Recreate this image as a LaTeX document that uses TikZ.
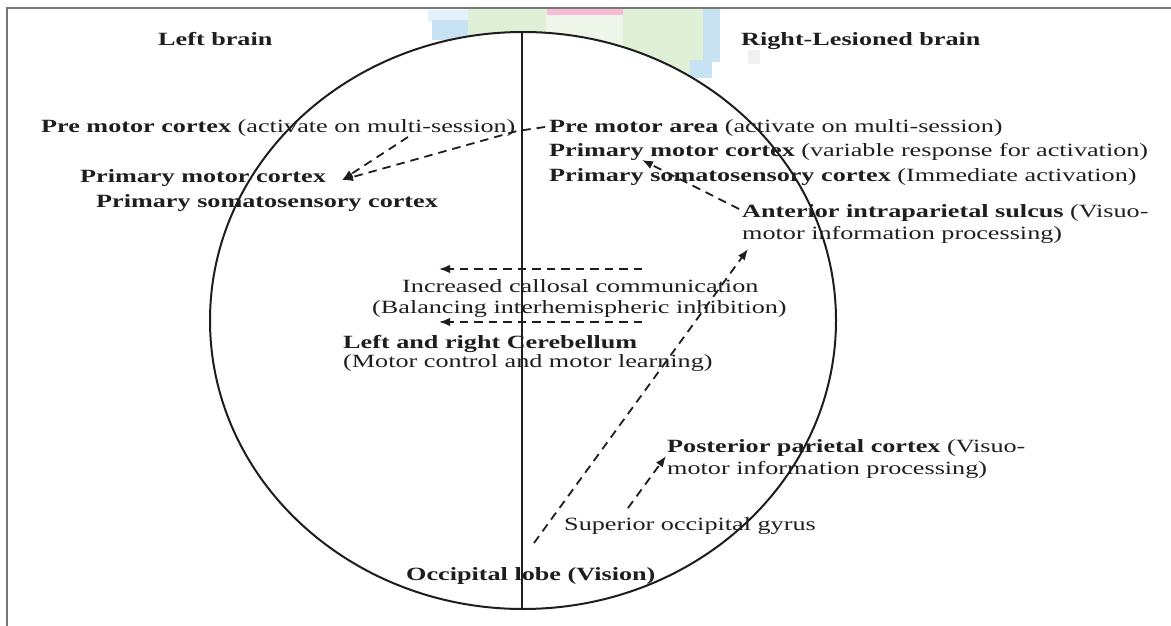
\documentclass[tikz,border=0pt]{standalone}
\usepackage{fontspec}
\setmainfont{Liberation Serif}[FakeStretch=1.40]
\usetikzlibrary{arrows.meta}
\definecolor{ink}{HTML}{1E1E1E}
\definecolor{frame}{HTML}{777777}
\definecolor{lblue}{HTML}{C6E2F3}
\definecolor{vlblue}{HTML}{E4F1FA}
\definecolor{lgreen}{HTML}{E0F0D7}
\definecolor{vlgreen}{HTML}{EDF6E8}
\definecolor{lpink}{HTML}{F6BCD6}
\tikzset{
  txt/.style={inner sep=0pt, anchor=base west, text=ink, font=\fontsize{18.7}{23}\selectfont},
  btxt/.style={txt, font=\fontsize{18.7}{23}\selectfont\bfseries},
  darr/.style={draw=ink, line width=1.8pt, dash pattern=on 8.5pt off 6pt, -{Latex[length=11pt,width=8.5pt]}},
}
\begin{document}
\begin{tikzpicture}[x=1pt,y=-1pt]
\useasboundingbox (0,0) rectangle (1171,626);
% faint coloured fragments at the top
\fill[vlblue] (428,10) rectangle (470,22);
\fill[lblue] (432,20) rectangle (470,40);
\fill[lgreen] (468,8) rectangle (548,40);
\fill[vlgreen] (546,14) rectangle (625,45);
\fill[lpink] (547,8) rectangle (623,15);
\fill[lgreen] (623,8) rectangle (704,76);
\fill[lblue] (703,8) rectangle (720,62);
\fill[lblue] (690,60) rectangle (712,78);
\fill[black!6] (748,50) rectangle (760,64);
% frame
\draw[frame, line width=1.4pt] (7,626) -- (7,8) -- (1171,8);
% brain outline
\coordinate (centre) at (523,320.5);
\filldraw[draw=ink, fill=white, line width=2pt] (centre) ellipse [x radius=313, y radius=288.5];
\coordinate (top) at (522,32);
\coordinate (bottom) at (522,609);
\draw[ink, line width=2.6pt] (top) -- (bottom);
% texts
\node[btxt] (lb) at (158,46) {Left brain};
\node[btxt] (rb) at (741,46) {Right-Lesioned brain};
\node[txt] (pmc) at (41,132) {\textbf{Pre motor cortex} (activate on multi-session)};
\node[btxt] (pmcl) at (80,182) {Primary motor cortex};
\node[btxt] (pscl) at (96,207) {Primary somatosensory cortex};
\node[txt] (pma) at (549,132) {\textbf{Pre motor area} (activate on multi-session)};
\node[txt] (pmr) at (549,157) {\textbf{Primary motor cortex} (variable response for activation)};
\node[txt] (psr) at (549,181) {\textbf{Primary somatosensory cortex} (Immediate activation)};
\node[txt] (ais) at (742,217) {\textbf{Anterior intraparietal sulcus} (Visuo-};
\node[txt] (ais2) at (742,239) {motor information processing)};
\node[txt] (icc) at (402,292) {Increased callosal communication};
\node[txt] (bii) at (372,313) {(Balancing interhemispheric inhibition)};
\node[btxt] (cer) at (343,348) {Left and right Cerebellum};
\node[txt] (cer2) at (343,367) {(Motor control and motor learning)};
\node[txt] (ppc) at (667,452) {\textbf{Posterior parietal cortex} (Visuo-};
\node[txt] (ppc2) at (667,474) {motor information processing)};
\node[txt] (sog) at (564,530) {Superior occipital gyrus};
\node[btxt] (occ) at (406,580) {Occipital lobe (Vision)};
% arrow end points
\coordinate (a1s) at (408,137);
\coordinate (a1e) at (342,180);
\coordinate (a2s) at (545,127);
\coordinate (a2m) at (517,131);
\coordinate (a3s) at (739,209);
\coordinate (a3e) at (642,160);
\coordinate (a4s) at (534,543);
\coordinate (a4e) at (748,249);
\coordinate (a5s) at (628,508);
\coordinate (a5e) at (666,456);
\coordinate (h1s) at (642,269);
\coordinate (h1e) at (439,269);
\coordinate (h2s) at (642,322);
\coordinate (h2e) at (439,322);
% arrows
\draw[darr] (a1s) -- (a1e);
\draw[darr] (a2s) -- (a2m) -- (a1e);
\draw[darr] (a3s) -- (a3e);
\draw[darr] (a4s) -- (a4e);
\draw[darr] (a5s) -- (a5e);
\draw[darr] (h1s) -- (h1e);
\draw[darr] (h2s) -- (h2e);
\end{tikzpicture}
\end{document}
